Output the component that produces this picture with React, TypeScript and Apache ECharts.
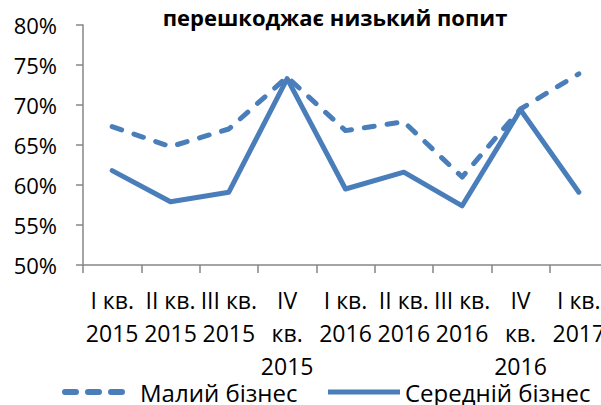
import React, { useEffect, useRef } from "react";
import * as echarts from "echarts";

const categories = [
  "I кв.\n2015",
  "II кв.\n2015",
  "III кв.\n2015",
  "IV\nкв.\n2015",
  "I кв.\n2016",
  "II кв.\n2016",
  "III кв.\n2016",
  "IV\nкв.\n2016",
  "I кв.\n2017",
];
const smallBusiness = [67.3, 64.8, 67.0, 73.5, 66.8, 67.9, 61.0, 69.5, 73.9];
const mediumBusiness = [61.8, 57.9, 59.1, 73.3, 59.5, 61.6, 57.4, 69.4, 59.1];
const seriesNames = ["Малий бізнес", "Середній бізнес"];
const titleText = "перешкоджає низький попит";

const COLOR = "#4a7ebb";
const FONT = "'Open Sans', sans-serif";
const DASH_ICON =
  "path://M3,0h11a3,3 0 0 1 0,6h-11a3,3 0 0 1 0,-6z M26,0h11a3,3 0 0 1 0,6h-11a3,3 0 0 1 0,-6z M49,0h11a3,3 0 0 1 0,6h-11a3,3 0 0 1 0,-6z";

export default function App() {
  const ref = useRef<HTMLDivElement>(null);
  useEffect(() => {
    if (!ref.current) return;
    const chart = echarts.init(ref.current, undefined, { renderer: "svg" });
    const legendText = { fontFamily: FONT, fontSize: 24, color: "#000" };
    chart.setOption({
      animation: false,
      title: {
        text: titleText,
        left: 330,
        top: 1,
        textAlign: "center",
        textStyle: { fontFamily: FONT, fontWeight: "bold", fontSize: 22, color: "#000" },
      },
      grid: { left: 83, right: 2, top: 25, bottom: 140, containLabel: false },
      legend: [
        {
          data: [seriesNames[0]],
          left: 57,
          top: 375,
          icon: DASH_ICON,
          itemWidth: 63,
          itemHeight: 6,
          itemStyle: { color: COLOR, borderWidth: 0 },
          textStyle: { ...legendText, padding: [0, 0, 0, 10] },
        },
        {
          data: [seriesNames[1]],
          left: 323,
          top: 375,
          icon: "rect",
          itemWidth: 72,
          itemHeight: 5,
          itemStyle: { color: COLOR, borderWidth: 0 },
          textStyle: { ...legendText, padding: [0, 0, 0, 0] },
        },
      ],
      xAxis: {
        type: "category",
        data: categories,
        boundaryGap: true,
        axisLine: { lineStyle: { color: "#868686", width: 1.5 } },
        axisTick: { show: true, length: 8, lineStyle: { color: "#868686", width: 1.5 } },
        axisLabel: {
          interval: 0,
          margin: 18.5,
          fontFamily: FONT,
          fontSize: 23,
          lineHeight: 33,
          color: "#000",
        },
      },
      yAxis: {
        type: "value",
        min: 50,
        max: 80,
        interval: 5,
        splitLine: { show: false },
        axisLine: { show: true, lineStyle: { color: "#868686", width: 1.5 } },
        axisTick: { show: true, length: 7, lineStyle: { color: "#868686", width: 1.5 } },
        axisLabel: {
          margin: 26,
          fontFamily: FONT,
          fontSize: 22,
          color: "#000",
          formatter: (v: number) => v + "%",
        },
      },
      series: [
        {
          name: seriesNames[0],
          type: "line",
          data: smallBusiness,
          symbol: "none",
          lineStyle: { color: COLOR, width: 5, type: [10, 13], cap: "round", join: "round" },
          itemStyle: { color: COLOR },
        },
        {
          name: seriesNames[1],
          type: "line",
          data: mediumBusiness,
          symbol: "none",
          lineStyle: { color: COLOR, width: 5, join: "round", cap: "round" },
          itemStyle: { color: COLOR },
        },
      ],
    });
    return () => chart.dispose();
  }, []);
  return (
    <div style={{ position: "absolute", left: 0, top: 0, width: 601, height: 405, overflow: "hidden", background: "#fff" }}>
      <div ref={ref} style={{ width: 610, height: 405 }} />
    </div>
  );
}
